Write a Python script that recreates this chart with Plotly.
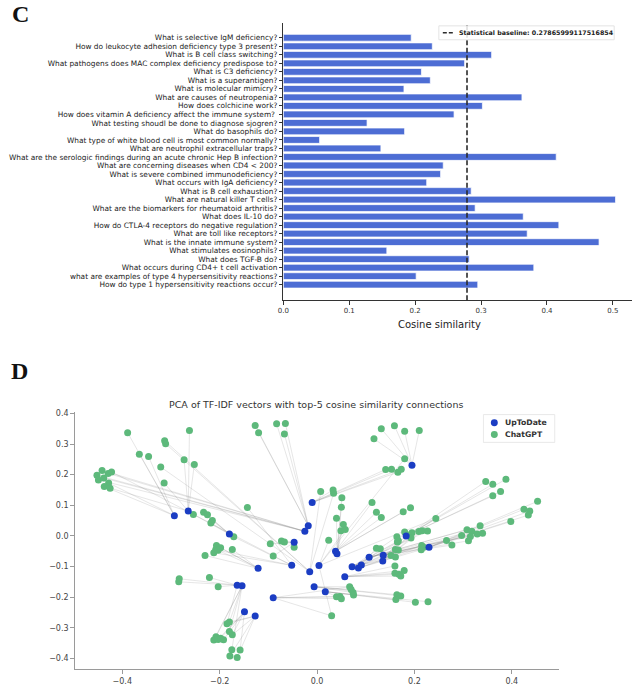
import plotly.graph_objects as go

# ---------------- Panel C data ----------------
questions = [
    "What is selective IgM deficiency?",
    "How do leukocyte adhesion deficiency type 3 present?",
    "What is B cell class switching?",
    "What pathogens does MAC complex deficiency predispose to?",
    "What is C3 deficiency?",
    "What is a superantigen?",
    "What is molecular mimicry?",
    "What are causes of neutropenia?",
    "How does colchicine work?",
    "How does vitamin A deficiency affect the immune system? ",
    "What testing shoudl be done to diagnose sjogren?",
    "What do basophils do?",
    "What type of white blood cell is most common normally?",
    "What are neutrophil extracellular traps?",
    "What are the serologic findings during an acute chronic Hep B infection?",
    "What are concerning diseases when CD4 < 200?",
    "What is severe combined immunodeficiency?",
    "What occurs with IgA deficiency?",
    "What is B cell exhaustion?",
    "What are natural killer T cells?",
    "What are the biomarkers for rheumatoid arthritis?",
    "What does IL-10 do?",
    "How do CTLA-4 receptors do negative regulation?",
    "What are toll like receptors?",
    "What is the innate immune system?",
    "What stimulates eosinophils?",
    "What does TGF-B do?",
    "What occurs during CD4+ t cell activation",
    "what are examples of type 4 hypersensitivity reactions?",
    "How do type 1 hypersensitivity reactions occur?",
]
similarity = [0.194, 0.226, 0.316, 0.275, 0.2095, 0.223, 0.183, 0.362, 0.302, 0.259,
              0.127, 0.184, 0.055, 0.148, 0.414, 0.2426, 0.2386, 0.2175, 0.285, 0.504,
              0.291, 0.364, 0.418, 0.370, 0.479, 0.157, 0.282, 0.380, 0.2015, 0.295]
baseline = 0.27865999117516854
bar_ticks = [0.0, 0.1, 0.2, 0.3, 0.4, 0.5]

# ---------------- Panel D data ----------------
uptodate_x = [-0.293, -0.2645, -0.180, -0.018, -0.025, -0.010, 0.195, 0.183, -0.047, 0.038,
              0.041, -0.121, -0.052, -0.015, 0.004, -0.164, -0.154, -0.006, 0.017, -0.090,
              -0.149, -0.127, 0.057, 0.072, 0.085, 0.091, 0.107, 0.136, 0.135, 0.230]
uptodate_y = [0.066, 0.081, 0.006, 0.033, 0.015, 0.109, 0.231, 0.000, -0.021, -0.050,
              -0.058, -0.106, -0.096, -0.117, -0.097, -0.161, -0.163, -0.166, -0.182, -0.202,
              -0.248, -0.262, -0.133, -0.101, -0.105, -0.095, -0.070, -0.063, -0.082, -0.037]

chatgpt_x = [-0.389, -0.262, -0.365, -0.346, -0.313, -0.311, -0.273, -0.252, -0.321, -0.314,
             -0.452, -0.4415, -0.449, -0.438, -0.429, -0.422, -0.428, -0.437, -0.425, -0.127,
             -0.120, -0.083, -0.065, -0.067, -0.143, -0.254, -0.233, -0.225, -0.215, -0.218,
             -0.171, 0.0075, 0.033, 0.034, 0.051, 0.050, 0.040, 0.054, 0.049, 0.058,
             0.024, 0.132, 0.159, 0.180, 0.210, 0.117, 0.180, 0.141, 0.153, 0.166,
             0.173, 0.113, 0.122, 0.132, 0.177, 0.192, 0.3465, 0.361, 0.388, 0.361,
             0.377, 0.244, 0.453, 0.425, 0.437, 0.434, 0.398, 0.335, 0.308, 0.318,
             0.329, 0.340, 0.297, 0.315, 0.311, 0.266, 0.277, 0.180, 0.190, 0.195,
             0.209, 0.216, 0.227, 0.193, 0.164, 0.165, 0.167, 0.215, 0.219, 0.214,
             0.122, 0.130, 0.161, 0.167, 0.152, 0.161, 0.160, 0.179, 0.160, 0.168,
             0.172, 0.067, 0.070, 0.074, 0.075, 0.040, 0.047, 0.050, 0.164, 0.172,
             0.162, 0.202, 0.228, 0.030, -0.2065, -0.198, -0.208, -0.212, -0.203, -0.174,
             -0.230, -0.096, -0.073, -0.067, -0.047, -0.090, -0.221, -0.203, -0.283, -0.284,
             -0.185, -0.180, -0.180, -0.174, -0.2075, -0.212, -0.203, -0.192, -0.198, -0.175,
             -0.158, -0.179, -0.164]
chatgpt_y = [0.337, 0.344, 0.267, 0.259, 0.311, 0.301, 0.249, 0.233, 0.225, 0.173,
             0.198, 0.214, 0.183, 0.189, 0.204, 0.209, 0.173, 0.161, 0.156, 0.361,
             0.337, 0.366, 0.367, 0.333, 0.093, 0.070, 0.077, 0.069, 0.050, 0.042,
             -0.003, 0.145, 0.150, 0.139, 0.125, 0.094, 0.058, 0.037, 0.017, 0.021,
             -0.014, 0.350, 0.360, 0.342, 0.344, 0.317, 0.252, 0.217, 0.218, 0.208,
             0.218, 0.109, 0.077, 0.060, 0.079, 0.092, 0.178, 0.169, 0.185, 0.131,
             0.145, 0.057, 0.113, 0.087, 0.081, 0.068, 0.047, 0.033, 0.020, 0.015,
             0.006, 0.009, 0.001, -0.002, -0.016, -0.015, -0.030, 0.013, 0.003, 0.010,
             0.014, 0.017, 0.016, -0.007, -0.003, -0.020, -0.016, -0.031, -0.037, -0.045,
             -0.040, -0.042, -0.044, -0.046, -0.064, -0.069, -0.098, -0.113, -0.122, -0.125,
             -0.131, -0.166, -0.175, -0.185, -0.193, -0.199, -0.198, -0.205, -0.192, -0.196,
             -0.208, -0.217, -0.215, -0.261, -0.031, -0.039, -0.044, -0.055, -0.047, -0.044,
             -0.064, -0.026, -0.017, -0.020, -0.037, -0.066, -0.136, -0.166, -0.140, -0.150,
             -0.287, -0.281, -0.312, -0.323, -0.329, -0.340, -0.338, -0.339, -0.334, -0.372,
             -0.373, -0.392, -0.397]

# top-5 most similar ChatGPT answers (1-based ids) for each UpToDate point
top5 = [
    [1, 3, 4, 17, 18], [2, 7, 8, 10, 19], [26, 27, 28, 29, 30], [20, 21, 22, 23, 24],
    [11, 12, 13, 14, 15], [48, 49, 50, 51, 33], [42, 43, 44, 45, 46], [57, 58, 59, 60, 61],
    [122, 123, 124, 125, 126], [52, 53, 54, 55, 56], [35, 36, 37, 38, 39],
    [115, 116, 117, 120, 121], [118, 119, 25, 31, 16], [32, 34, 9, 5, 6],
    [47, 62, 114, 41, 40], [127, 128, 129, 130, 131], [132, 133, 135, 136, 140],
    [102, 103, 104, 109, 110], [105, 111, 112, 113, 108], [106, 107, 108, 114, 102],
    [134, 137, 138, 139, 141], [131, 132, 134, 142, 143], [97, 98, 99, 100, 101],
    [83, 84, 85, 86, 87], [88, 89, 90, 91, 92], [93, 94, 95, 96, 62],
    [68, 69, 70, 71, 72], [73, 74, 75, 76, 77], [78, 79, 80, 81, 82], [63, 64, 65, 66, 67],
]

W, H = 633, 686
def fx(p):
    return p / W
def fy(p):
    return 1 - p / H

BAR_COLOR = "#4d6dd4"
BLUE = "#1b3dc3"
GREEN = "#5db97b"
FONT = "DejaVu Sans"

fig = go.Figure()

# Panel C bars
fig.add_trace(go.Bar(
    x=similarity, y=questions, orientation="h", width=0.8,
    marker=dict(color=BAR_COLOR, line=dict(color="rgba(255,255,255,0.9)", width=0.8)),
    xaxis="x", yaxis="y", showlegend=False, hoverinfo="x+y",
))

# Panel D edges
ex, ey = [], []
for i, ids in enumerate(top5):
    for g in ids:
        ex += [uptodate_x[i], chatgpt_x[g - 1], None]
        ey += [uptodate_y[i], chatgpt_y[g - 1], None]
fig.add_trace(go.Scatter(
    x=ex, y=ey, mode="lines", line=dict(color="rgba(120,120,120,0.24)", width=0.8),
    xaxis="x2", yaxis="y2", showlegend=False, hoverinfo="skip",
))
fig.add_trace(go.Scatter(
    x=chatgpt_x, y=chatgpt_y, mode="markers", name="ChatGPT",
    marker=dict(color=GREEN, size=7, line=dict(width=0)),
    xaxis="x2", yaxis="y2", showlegend=False,
))
fig.add_trace(go.Scatter(
    x=uptodate_x, y=uptodate_y, mode="markers", name="UpToDate",
    marker=dict(color=BLUE, size=7, line=dict(width=0)),
    xaxis="x2", yaxis="y2", showlegend=False,
))

n = len(questions)
axis_common = dict(showgrid=False, zeroline=False, showline=True, ticks="outside")

fig.update_layout(
    width=W, height=H,
    margin=dict(l=0, r=0, t=0, b=0),
    paper_bgcolor="white", plot_bgcolor="white",
    font=dict(family=FONT, color="#333333"),
    bargap=0.2,
    xaxis=dict(
        domain=[fx(280), fx(632)], anchor="y", range=[0, 0.529],
        tickvals=bar_ticks, tickformat=".1f",
        linecolor="#333333", linewidth=1, tickcolor="#333333", ticklen=3.5, tickwidth=0.8,
        tickfont=dict(size=7, color="#333333"), **axis_common,
    ),
    yaxis=dict(
        domain=[fy(300), fy(21)], anchor="x", type="category",
        categoryorder="array", categoryarray=questions,
        tickmode="array", tickvals=questions, ticktext=questions,
        range=[n - 1 + 1.83, -1.75],
        linecolor="#333333", linewidth=1, tickcolor="#333333", ticklen=3.5, tickwidth=0.8,
        tickfont=dict(size=7.4, color="#222222"), **axis_common,
    ),
    xaxis2=dict(
        domain=[fx(70), fx(558)], anchor="y2", range=[-0.4964, 0.4964],
        tick0=0, dtick=0.2, tickformat=".1f",
        linecolor="#9a9a9a", linewidth=1.3, tickcolor="#9a9a9a", ticklen=4, tickwidth=1,
        tickfont=dict(size=8, color="#444444"), **axis_common,
    ),
    yaxis2=dict(
        domain=[fy(671), fy(412)], anchor="x2", range=[-0.435, 0.406],
        tick0=0, dtick=0.1, tickformat=".1f",
        linecolor="#9a9a9a", linewidth=1.3, tickcolor="#9a9a9a", ticklen=4, tickwidth=1,
        tickfont=dict(size=8, color="#444444"), **axis_common,
    ),
)

shapes = [
    # baseline dashed line
    dict(type="line", xref="x", yref="y domain", x0=baseline, x1=baseline, y0=0, y1=1,
         line=dict(color="#2b2b2b", width=1.6, dash="5px,2.5px"), layer="above"),
    # legend box (panel C)
    dict(type="rect", xref="paper", yref="paper", x0=fx(437), x1=fx(614), y0=fy(38), y1=fy(24),
         line=dict(color="#dddddd", width=0.8), fillcolor="rgba(255,255,255,0.85)", layer="above"),
    dict(type="line", xref="paper", yref="paper", x0=fx(441), x1=fx(453), y0=fy(31), y1=fy(31),
         line=dict(color="#2b2b2b", width=1.4, dash="4px,2px"), layer="above"),
    # legend box (panel D)
    dict(type="rect", xref="paper", yref="paper", x0=fx(482), x1=fx(554), y0=fy(443), y1=fy(415),
         line=dict(color="#e3e3e3", width=0.8), fillcolor="rgba(255,255,255,0.9)", layer="above"),
    dict(type="circle", xref="paper", yref="paper", x0=fx(489.5), x1=fx(496.5),
         y0=fy(426.8), y1=fy(419.8), line=dict(width=0), fillcolor=BLUE, layer="above"),
    dict(type="circle", xref="paper", yref="paper", x0=fx(489.5), x1=fx(496.5),
         y0=fy(438.5), y1=fy(431.5), line=dict(width=0), fillcolor=GREEN, layer="above"),
]
fig.update_layout(shapes=shapes)

def ann(text, x, y, size, xanchor="center", family=FONT, color="#333333", bold=False):
    t = f"<b>{text}</b>" if bold else text
    return dict(text=t, xref="paper", yref="paper", x=fx(x), y=fy(y), showarrow=False,
                xanchor=xanchor, yanchor="middle", font=dict(size=size, family=family, color=color))

annotations = [
    ann("C", 14.5, 12, 24, family="Liberation Serif", color="#111111", bold=True),
    ann("D", 13.5, 371, 24, family="Liberation Serif", color="#111111", bold=True),
    ann("Cosine similarity", 438, 324, 10, color="#222222"),
    ann(f"Statistical baseline: {baseline}", 455, 31, 6.3, xanchor="left", color="#222222", bold=True),
    ann("PCA of TF-IDF vectors with top-5 cosine similarity connections", 313, 405, 9.5, color="#333333"),
    ann("UpToDate", 502, 423.3, 7.7, xanchor="left", color="#333333", bold=True),
    ann("ChatGPT", 502, 435, 7.7, xanchor="left", color="#333333", bold=True),
]
fig.update_layout(annotations=annotations)

fig.write_html("out.html")
